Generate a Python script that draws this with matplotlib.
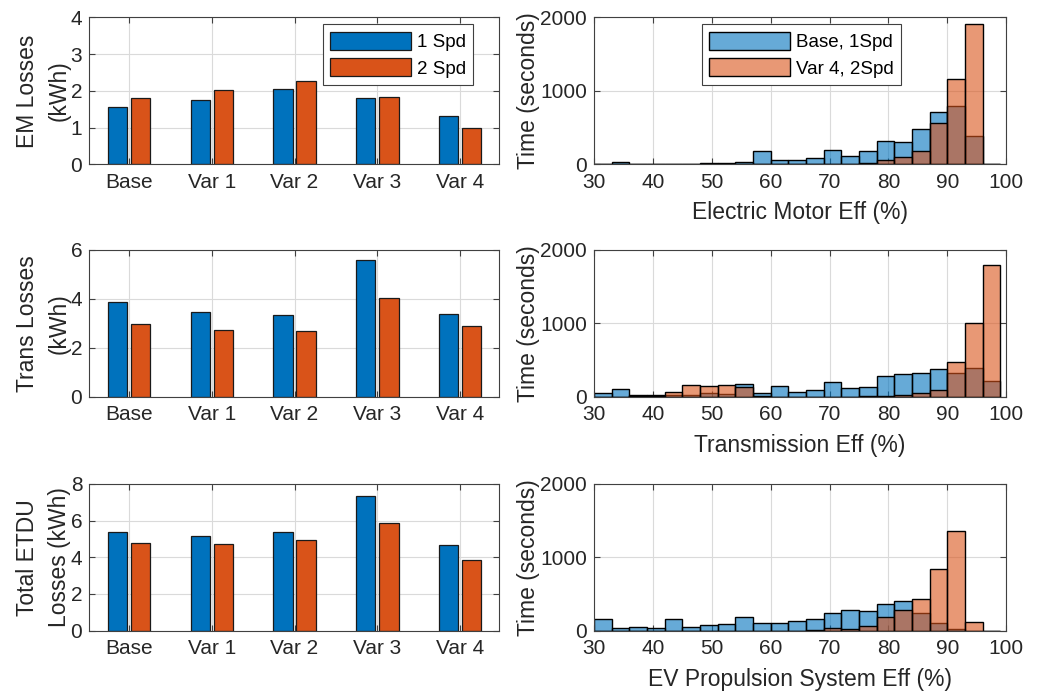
"""
Electric drive losses per variant and efficiency histograms
"""

import numpy as np
import matplotlib
matplotlib.use("Agg")
import matplotlib.pyplot as plt

plt.rcParams['font.family'] = ['Liberation Sans', 'DejaVu Sans']

# ---- data ----
variants = ["Base", "Var 1", "Var 2", "Var 3", "Var 4"]
em_1spd = [1.55, 1.76, 2.05, 1.81, 1.32]
em_2spd = [1.80, 2.02, 2.27, 1.82, 0.99]
trans_1spd = [3.86, 3.44, 3.34, 5.57, 3.36]
trans_2spd = [2.97, 2.73, 2.69, 4.04, 2.88]
total_1spd = [5.38, 5.16, 5.38, 7.35, 4.65]
total_2spd = [4.78, 4.72, 4.92, 5.85, 3.86]

# histogram bins (edges, %), bin width 3
bin_edges = np.arange(30, 100, 3)
em_base = [0, 25, 5, 5, 10, 8, 12, 15, 25, 177, 55, 64, 82, 200, 114, 182,
           314, 305, 486, 714, 795, 382, 0]
em_var4 = [0, 0, 0, 0, 0, 0, 0, 0, 0, 0, 0, 0, 0, 0, 5, 23,
           55, 100, 182, 564, 1155, 1909, 0]
tr_base = [45, 100, 23, 23, 23, 23, 55, 36, 173, 45, 150, 68, 86, 200, 123, 127,
           286, 305, 327, 373, 318, 386, 218]
tr_var4 = [0, 0, 5, 5, 68, 164, 145, 164, 127, 5, 0, 0, 0, 0, 0, 5,
           9, 23, 45, 95, 477, 1009, 1795]
ev_base = [159, 41, 50, 41, 159, 50, 77, 86, 191, 100, 109, 136, 164, 236, 282, 273,
           359, 400, 236, 100, 18, 0, 0]
ev_var4 = [0, 0, 0, 0, 0, 0, 0, 0, 0, 0, 0, 0, 5, 32, 27, 64,
           191, 286, 436, 841, 1359, 114, 0]

BLUE = (0.0, 0.447, 0.741)
ORANGE = (0.85, 0.325, 0.098)
TXT = "#262626"
AX = "#404040"
FS_TICK = 15
FS_LAB = 16.5
FS_LEG = 13.5


def style_axes(ax):
  ax.set_axisbelow(True)
  ax.grid(True, color="#dadada", linewidth=0.8)
  for s in ax.spines.values():
    s.set_color(AX)
    s.set_linewidth(0.8)
  ax.tick_params(direction="in", top=True, right=True, labelsize=FS_TICK,
                 colors=AX, labelcolor=TXT, length=4, width=0.8)
  ax.tick_params(axis="x", pad=6)
  ax.tick_params(axis="y", pad=5)


def add_legend(ax, anchor, loc):
  leg = ax.legend(loc=loc, bbox_to_anchor=anchor, fontsize=FS_LEG,
                  handlelength=4.3, handleheight=1.1, labelspacing=0.4,
                  handletextpad=0.3, borderpad=0.4, fancybox=False,
                  borderaxespad=0, framealpha=1)
  leg.get_frame().set_edgecolor(AX)
  leg.get_frame().set_linewidth(0.8)


fig = plt.figure(figsize=(10.38, 6.93), dpi=100)
lefts = [0.086, 0.5723]
bottoms = [0.7629, 0.4276, 0.0899]
widths = [0.3947, 0.397]
h = 0.212

bar_sets = [(em_1spd, em_2spd, "EM Losses\n(kWh)", [0, 1, 2, 3, 4], 4),
            (trans_1spd, trans_2spd, "Trans Losses\n(kWh)", [0, 2, 4, 6], 6),
            (total_1spd, total_2spd, "Total ETDU\nLosses (kWh)", [0, 2, 4, 6, 8], 8)]
hist_sets = [(em_base, em_var4, "Electric Motor Eff (%)"),
             (tr_base, tr_var4, "Transmission Eff (%)"),
             (ev_base, ev_var4, "EV Propulsion System Eff (%)")]

x = np.arange(1, len(variants) + 1)
bw = 0.233
for i, (a, b, lab, yt, ymax) in enumerate(bar_sets):
  ax = fig.add_axes([lefts[0], bottoms[i], widths[0], h])
  style_axes(ax)
  ax.bar(x - 0.14, a, bw, color=BLUE, edgecolor="#1a1a1a", linewidth=0.9, label="1 Spd")
  ax.bar(x + 0.14, b, bw, color=ORANGE, edgecolor="#1a1a1a", linewidth=0.9, label="2 Spd")
  ax.set_xticks(x)
  ax.set_xticklabels(variants)
  ax.set_xlim(0.52, 5.47)
  ax.set_ylim(0, ymax)
  ax.set_yticks(yt)
  ax.set_ylabel(lab, fontsize=FS_LAB, color=TXT, linespacing=1.5, labelpad=0)
  if i == 0:
    add_legend(ax, (0.937, 0.955), "upper right")

for i, (a, b, lab) in enumerate(hist_sets):
  ax = fig.add_axes([lefts[1], bottoms[i], widths[1], h])
  style_axes(ax)
  ax.bar(bin_edges[:-1], a, width=3, align="edge", color=BLUE + (0.6,),
         edgecolor="black", linewidth=1.0, label="Base, 1Spd")
  ax.bar(bin_edges[:-1], b, width=3, align="edge", color=ORANGE + (0.6,),
         edgecolor="black", linewidth=1.0, label="Var 4, 2Spd")
  ax.set_xlim(30, 100)
  ax.set_xticks(range(30, 101, 10))
  ax.set_ylim(0, 2000)
  ax.set_yticks([0, 1000, 2000])
  ax.set_xlabel(lab, fontsize=FS_LAB, color=TXT, labelpad=7)
  ax.set_ylabel("Time (seconds)", fontsize=FS_LAB, color=TXT, labelpad=0)
  if i == 0:
    add_legend(ax, (0.503, 0.955), "upper center")

fig.savefig("out.png", dpi=100)
